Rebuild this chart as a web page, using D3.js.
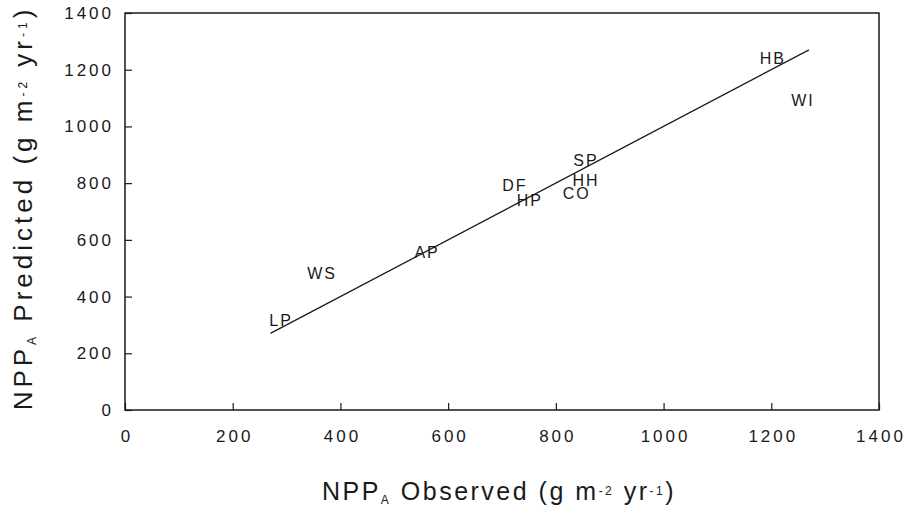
<!DOCTYPE html>
<html>
<head>
<meta charset="utf-8">
<script src="https://cdn.jsdelivr.net/npm/d3@7"></script>
<style>
  body { margin: 0; background: #fff; }
  text { font-family: 'Liberation Sans', Arial, sans-serif; fill: #1a1a1a; }
</style>
</head>
<body>
<div class="canvas"></div>
<script>
const WIDTH = 910;
const HEIGHT = 509;
const margin = { top: 13, right: 31, bottom: 99, left: 125 };
const graphWidth = WIDTH - margin.left - margin.right;
const graphHeight = HEIGHT - margin.top - margin.bottom;

// data
const sites = ['LP', 'WS', 'AP', 'DF', 'HP', 'SP', 'HH', 'CO', 'HB', 'WI'];
const observed = [288, 364, 559, 722, 750, 854, 854, 837, 1201, 1257];
const predicted = [317, 483, 554, 793, 740, 881, 811, 765, 1241, 1093];
const fitX = [270, 1270];
const fitY = [270, 1270];
const xTicks = [0, 200, 400, 600, 800, 1000, 1200, 1400];
const yTicks = [0, 200, 400, 600, 800, 1000, 1200, 1400];

const ink = '#1a1a1a';

const svg = d3.select('.canvas')
  .append('svg')
    .attr('width', WIDTH)
    .attr('height', HEIGHT);

const graph = svg.append('g')
  .attr('transform', `translate(${margin.left}, ${margin.top})`);

// scales
const x = d3.scaleLinear().domain([0, 1400]).range([0, graphWidth]);
const y = d3.scaleLinear().domain([0, 1400]).range([graphHeight, 0]);

// frame
graph.append('rect')
  .attr('width', graphWidth)
  .attr('height', graphHeight)
  .attr('fill', 'none')
  .attr('stroke', ink)
  .attr('stroke-width', 1.5);

// axes (inward ticks)
const xAxis = d3.axisBottom(x).tickValues(xTicks).tickSize(-7).tickPadding(20).tickFormat(d3.format('d'));
const yAxis = d3.axisLeft(y).tickValues(yTicks).tickSize(-7).tickPadding(10).tickFormat(d3.format('d'));

const xAxisGroup = graph.append('g')
  .attr('transform', `translate(0, ${graphHeight})`)
  .call(xAxis);
const yAxisGroup = graph.append('g').call(yAxis);

[xAxisGroup, yAxisGroup].forEach(g => {
  g.select('.domain').remove();
  g.selectAll('line').attr('stroke', ink).attr('stroke-width', 1.2);
  g.selectAll('text')
    .attr('fill', ink)
    .style('font-size', '17px')
    .style('letter-spacing', '3px');
});
xAxisGroup.selectAll('text').attr('dx', '1.5px');
yAxisGroup.selectAll('text').attr('dx', '-1px');

// fitted line
const pts = fitX.map((v, i) => [v, fitY[i]]);
graph.append('path')
  .datum(pts)
  .attr('fill', 'none')
  .attr('stroke', ink)
  .attr('stroke-width', 1.3)
  .attr('d', d3.line().x(d => x(d[0])).y(d => y(d[1])));

// site labels as markers
graph.selectAll('text.site')
  .data(sites)
  .enter().append('text')
    .attr('class', 'site')
    .attr('x', (d, i) => x(observed[i]))
    .attr('y', (d, i) => y(predicted[i]))
    .attr('dx', '1px')
    .attr('text-anchor', 'middle')
    .attr('dominant-baseline', 'central')
    .style('font-size', '16px')
    .style('letter-spacing', '2px')
    .text(d => d);

// axis titles
const xTitle = svg.append('text')
  .attr('x', margin.left + graphWidth / 2 - 3)
  .attr('y', 500)
  .attr('text-anchor', 'middle')
  .style('font-size', '25px')
  .style('letter-spacing', '2.5px');
xTitle.append('tspan').text('NPP');
xTitle.append('tspan').attr('baseline-shift', '-30%').style('font-size', '12px').text('A');
xTitle.append('tspan').text('  Observed (g m');
xTitle.append('tspan').attr('baseline-shift', '45%').style('font-size', '12px').text('-2');
xTitle.append('tspan').text(' yr');
xTitle.append('tspan').attr('baseline-shift', '45%').style('font-size', '12px').text('-1');
xTitle.append('tspan').text(')');

const yTitle = svg.append('text')
  .attr('transform', `translate(32, ${208}) rotate(-90)`)
  .attr('text-anchor', 'middle')
  .style('font-size', '26px')
  .style('letter-spacing', '4px');
yTitle.append('tspan').text('NPP');
yTitle.append('tspan').attr('baseline-shift', '-30%').style('font-size', '12px').text('A');
yTitle.append('tspan').text(' Predicted (g m');
yTitle.append('tspan').attr('baseline-shift', '45%').style('font-size', '12px').text('-2');
yTitle.append('tspan').text(' yr');
yTitle.append('tspan').attr('baseline-shift', '45%').style('font-size', '12px').text('-1');
yTitle.append('tspan').text(')');
</script>
</body>
</html>
